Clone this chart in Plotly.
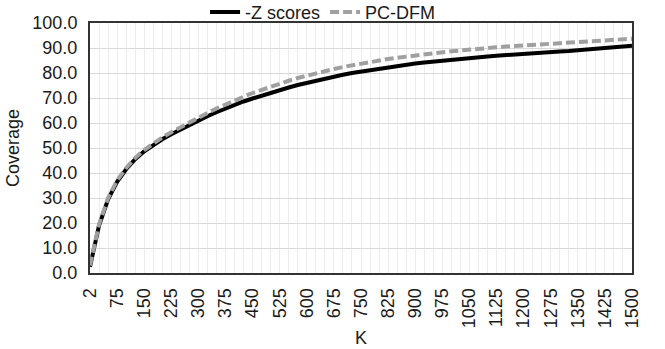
import plotly.graph_objects as go

K = [2] + list(range(25, 1501, 25))
z_scores = [2.5, 19.0, 29.5, 36.5, 41.5, 45.5, 48.7, 51.2, 53.5, 55.5,
            57.4, 59.3, 61.0, 62.7, 64.3, 65.8, 67.2, 68.6, 69.8, 71.0,
            72.1, 73.2, 74.2, 75.2, 76.1, 77.0, 77.8, 78.6, 79.3, 80.0,
            80.6, 81.2, 81.8, 82.3, 82.8, 83.3, 83.8, 84.2, 84.6, 85.0,
            85.4, 85.7, 86.0, 86.3, 86.6, 86.9, 87.2, 87.4, 87.7, 87.9,
            88.1, 88.4, 88.6, 88.8, 89.1, 89.4, 89.7, 90.0, 90.3, 90.6, 90.9]
pc_dfm = [3.0, 19.5, 30.0, 37.0, 42.0, 46.0, 49.2, 51.8, 54.2, 56.3,
          58.3, 60.3, 62.2, 64.0, 65.8, 67.5, 69.0, 70.5, 72.0, 73.3,
          74.6, 75.8, 76.9, 78.0, 79.0, 79.9, 80.8, 81.6, 82.4, 83.1,
          83.8, 84.4, 85.0, 85.6, 86.1, 86.6, 87.1, 87.5, 87.9, 88.3,
          88.7, 89.0, 89.4, 89.7, 90.0, 90.3, 90.6, 90.8, 91.0, 91.2,
          91.4, 91.6, 91.8, 92.0, 92.2, 92.4, 92.6, 92.9, 93.2, 93.4, 93.7]
y_ticks = list(range(0, 101, 10))

cats = [str(k) for k in K]
tick_text = [c if i % 3 == 0 else "" for i, c in enumerate(cats)]

FONT = "Liberation Sans, Arial, sans-serif"

fig = go.Figure()
fig.add_trace(go.Scatter(x=cats, y=z_scores, mode="lines", name="-Z scores",
                         line=dict(color="#000000", width=4)))
fig.add_trace(go.Scatter(x=cats, y=pc_dfm, mode="lines", name="PC-DFM",
                         line=dict(color="#a0a0a0", width=4, dash="9px,4px")))

fig.update_layout(
    width=665, height=349,
    margin=dict(l=90, r=33, t=23, b=76, autoexpand=False),
    paper_bgcolor="white", plot_bgcolor="white",
    font=dict(family=FONT, size=18, color="#1a1a1a"),
    showlegend=True,
    legend=dict(orientation="h", x=0.43, xanchor="center",
                yref="container", y=0.965, yanchor="middle",
                font=dict(size=18), tracegroupgap=0,
                bgcolor="rgba(0,0,0,0)"),
    xaxis=dict(type="category", range=[0, len(cats) - 1],
               tickmode="array", tickvals=cats, ticktext=tick_text,
               tickangle=-90, showgrid=True, gridcolor="#ececec", gridwidth=1,
               showline=True, linecolor="#333333", linewidth=2, mirror=True,
               ticks="", zeroline=False, ticklabelstandoff=6,
               title=dict(text="K", font=dict(size=18), standoff=4),
               tickfont=dict(size=18)),
    yaxis=dict(range=[0, 100], tickmode="array", tickvals=y_ticks,
               ticktext=[f"{v:.1f}" for v in y_ticks],
               showgrid=True, gridcolor="#d9d9d9", gridwidth=1,
               showline=True, linecolor="#333333", linewidth=2, mirror=True,
               ticks="", zeroline=False, ticklabelstandoff=7,
               title=dict(text="Coverage", font=dict(size=18), standoff=8),
               tickfont=dict(size=18)),
)

fig.write_html("out.html")
